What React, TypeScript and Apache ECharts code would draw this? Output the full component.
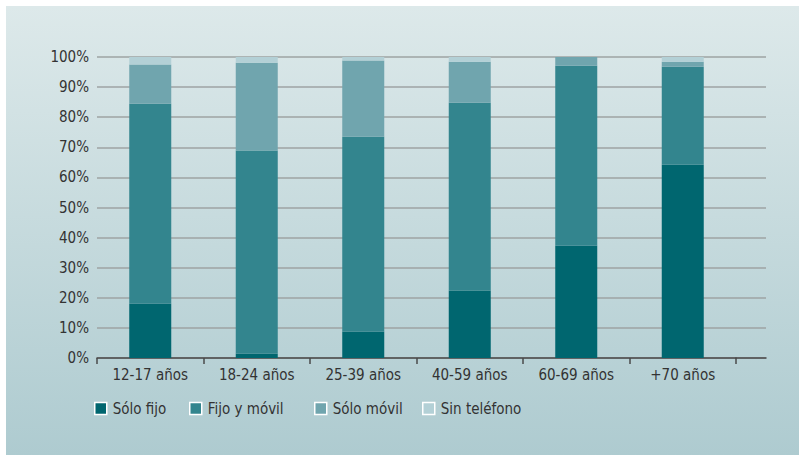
import React, { useEffect, useRef } from "react";
import * as echarts from "echarts";

const categories = ["12-17 años", "18-24 años", "25-39 años", "40-59 años", "60-69 años", "+70 años"];
const soloFijo = [18.0, 1.4, 8.7, 22.4, 37.3, 64.2];
const fijoYMovil = [66.5, 67.5, 64.8, 62.4, 59.8, 32.6];
const soloMovil = [13.0, 29.2, 25.3, 13.6, 2.9, 1.6];
const sinTelefono = [2.5, 1.9, 1.2, 1.6, 0.0, 1.6];
const seriesNames = ["Sólo fijo", "Fijo y móvil", "Sólo móvil", "Sin teléfono"];
const seriesColors = ["#00666f", "#33858e", "#70a5ae", "#b3d0d6"];

const FONT = "'Liberation Sans Narrow', 'DejaVu Sans Condensed', 'Arial Narrow', sans-serif";

export default function App() {
  const ref = useRef<HTMLDivElement>(null);
  useEffect(() => {
    if (!ref.current) return;
    const chart = echarts.init(ref.current, undefined, { renderer: "svg" });
    const values = [soloFijo, fijoYMovil, soloMovil, sinTelefono];
    const legendLefts = [94, 189, 314, 422];
    chart.setOption({
      animation: false,
      backgroundColor: "#ffffff",
      graphic: [
        {
          type: "rect",
          z: -10,
          silent: true,
          shape: { x: 6, y: 6, width: 793, height: 449 },
          style: {
            fill: new echarts.graphic.LinearGradient(0, 0, 0, 1, [
              { offset: 0, color: "#dde9ea" },
              { offset: 1, color: "#aecbd0" },
            ]),
          },
        },
      ],
      grid: [
        { left: 97, right: 63, top: 57, bottom: 97 },
        { left: 736, right: 33, top: 57, bottom: 97 },
      ],
      xAxis: [
        {
          type: "category",
          gridIndex: 0,
          data: categories,
          axisLine: { show: true, lineStyle: { color: "#4a4a4a", width: 1.5 } },
          axisTick: { show: true, length: 6, lineStyle: { color: "#4a4a4a", width: 1.5 } },
          axisLabel: { fontFamily: FONT, fontSize: 15, color: "#333333", margin: 9 },
        },
        {
          type: "category",
          gridIndex: 1,
          data: [""],
          axisLine: { show: true, lineStyle: { color: "#4a4a4a", width: 1.5 } },
          axisTick: { show: false },
          axisLabel: { show: false },
        },
      ],
      yAxis: [
        {
          type: "value",
          gridIndex: 0,
          min: 0,
          max: 100,
          interval: 10,
          axisLine: { show: false },
          axisTick: { show: false },
          axisLabel: { formatter: "{value}%", fontFamily: FONT, fontSize: 15, color: "#333333", margin: 8 },
          splitLine: { show: true, lineStyle: { color: "#9ea3a3", width: 1.5 } },
        },
        {
          type: "value",
          gridIndex: 1,
          min: 0,
          max: 100,
          interval: 10,
          axisLine: { show: false },
          axisTick: { show: false },
          axisLabel: { show: false },
          splitLine: { show: true, lineStyle: { color: "#9ea3a3", width: 1.5 } },
        },
      ],
      legend: seriesNames.map((n, i) => ({
        data: [n],
        left: legendLefts[i],
        top: 401,
        padding: 0,
        itemWidth: 12,
        itemHeight: 12,
        itemGap: 0,
        icon: "rect",
        itemStyle: { borderColor: "#ffffff", borderWidth: 1.5 },
        textStyle: { fontFamily: FONT, fontSize: 15, color: "#333333", padding: [0, 0, 0, 1] },
        selectedMode: false,
      })),
      series: seriesNames.map((n, i) => ({
        name: n,
        type: "bar",
        stack: "total",
        xAxisIndex: 0,
        yAxisIndex: 0,
        barWidth: 42,
        data: values[i],
        itemStyle: { color: seriesColors[i] },
        emphasis: { disabled: true },
      })),
    });
    return () => chart.dispose();
  }, []);
  return <div ref={ref} style={{ position: "fixed", left: 0, top: 0, width: 799, height: 455 }} />;
}
